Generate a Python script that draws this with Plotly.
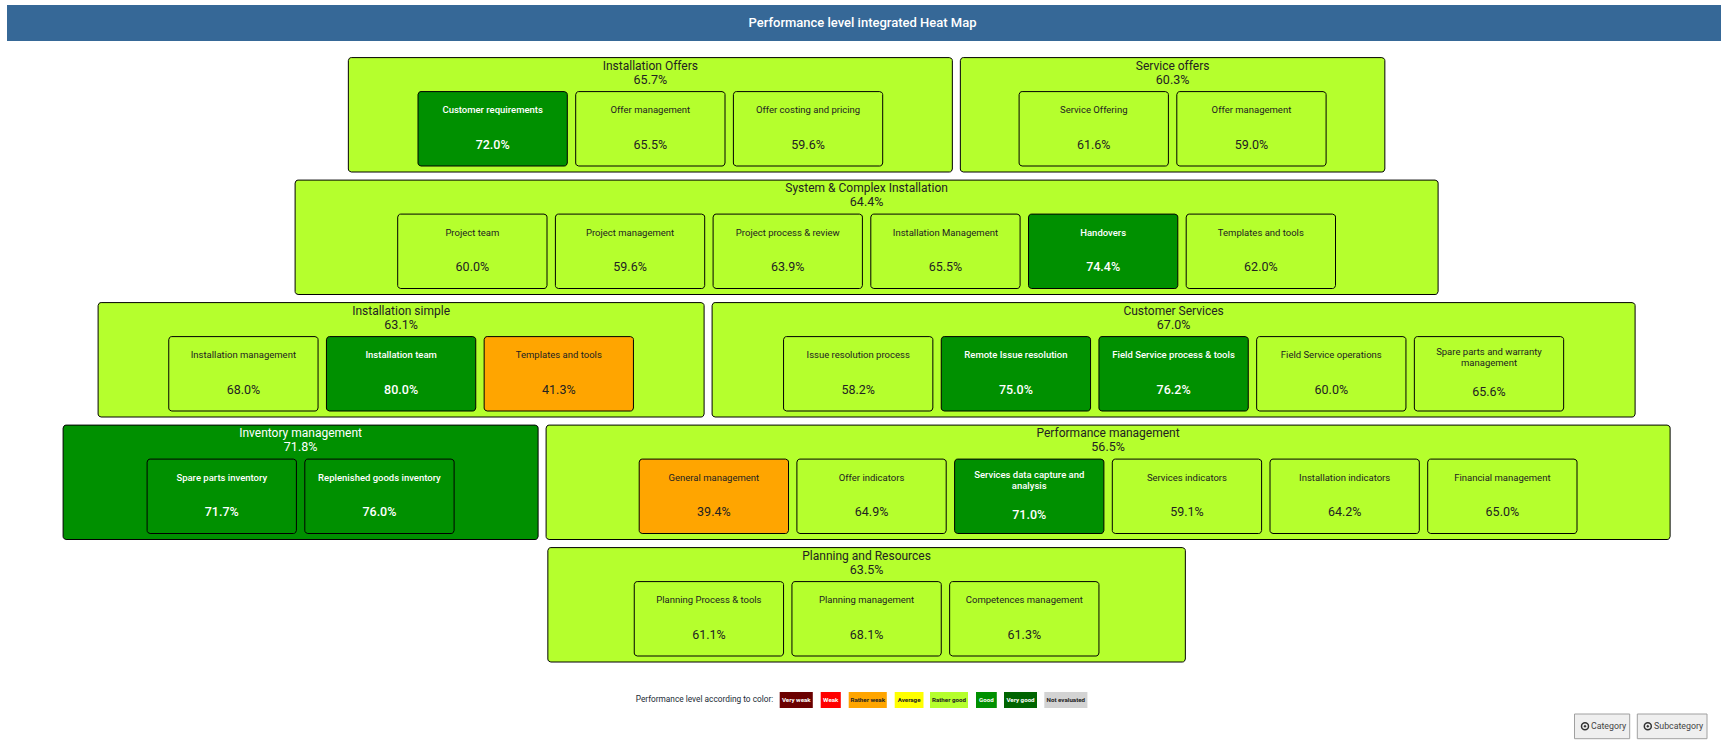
import numpy as np
import plotly.graph_objects as go

TITLE = "Performance level integrated Heat Map"
CATEGORIES = ["Installation Offers", "Service offers", "System & Complex Installation",
              "Installation simple", "Customer Services", "Inventory management",
              "Performance management", "Planning and Resources"]
CATEGORY_SCORES = [65.7, 60.3, 64.4, 63.1, 67.0, 71.8, 56.5, 63.5]
SUB_NAMES = [
    ["Customer requirements", "Offer management", "Offer costing and pricing"],
    ["Service Offering", "Offer management"],
    ["Project team", "Project management", "Project process & review",
     "Installation Management", "Handovers", "Templates and tools"],
    ["Installation management", "Installation team", "Templates and tools"],
    ["Issue resolution process", "Remote Issue resolution", "Field Service process & tools",
     "Field Service operations", "Spare parts and warranty\nmanagement"],
    ["Spare parts inventory", "Replenished goods inventory"],
    ["General management", "Offer indicators", "Services data capture and\nanalysis",
     "Services indicators", "Installation indicators", "Financial management"],
    ["Planning Process & tools", "Planning management", "Competences management"],
]
SUB_SCORES = [
    [72.0, 65.5, 59.6],
    [61.6, 59.0],
    [60.0, 59.6, 63.9, 65.5, 74.4, 62.0],
    [68.0, 80.0, 41.3],
    [58.2, 75.0, 76.2, 60.0, 65.6],
    [71.7, 76.0],
    [39.4, 64.9, 71.0, 59.1, 64.2, 65.0],
    [61.1, 68.1, 61.3],
]
LEGEND_TITLE = "Performance level according to color:"
LEVELS = ["Very weak", "Weak", "Rather weak", "Average", "Rather good", "Good", "Very good", "Not evaluated"]
BUTTONS = ["Category", "Subcategory"]

# ---- layout and style ----
ROW_OF = [0, 0, 1, 2, 2, 3, 3, 4]
WIDTH_OF = [604, 424.5, 1143, 606, 923, 475, 1124, 637.5]
LEVEL_COLOR = ["#6b0000", "#ff0000", "#ffa500", "#ffff00", "#b5ff2d", "#009000", "#006400", "#d3d3d3"]
LEVEL_TEXT = ["white", "white", "#222", "#222", "#222", "white", "white", "#222"]
LEVEL_X = [(779.7, 812.8), (820.7, 840.8), (848.7, 886.8), (894.7, 923.5),
           (930, 968), (976, 996.8), (1004, 1037), (1044.3, 1087.4)]
BUTTON_X = [(1574.5, 1629.7), (1637.3, 1707)]
FONT = "Roboto"
CENTER = 866.6; GAP = 8; ROW_TOP = 57.6; ROW_PITCH = 122.5; GROUP_H = 114.4
SUB_W = 149.3; SUB_H = 74.4; SUB_TOP = 34; SUB_GAP = 8.4


def level_of(v):
    if v > 80:
        return 6
    if v >= 70:
        return 5
    if v >= 50:
        return 4
    return 2


def rounded(x0, y0, x1, y1, r=3):
    t = np.linspace(0, np.pi / 2, 5)
    xs, ys = [], []
    for cx, cy, a in [(x1 - r, y0 + r, -np.pi / 2), (x1 - r, y1 - r, 0),
                      (x0 + r, y1 - r, np.pi / 2), (x0 + r, y0 + r, np.pi)]:
        xs += list(cx + r * np.cos(t + a))
        ys += list(cy + r * np.sin(t + a))
    return xs + xs[:1], ys + ys[:1]


fig = go.Figure()


def box(x0, y0, x1, y1, color, line="#000", lw=1.0, r=3):
    xs, ys = rounded(x0, y0, x1, y1, r)
    fig.add_trace(go.Scatter(x=xs, y=ys, mode="lines", fill="toself", fillcolor=color,
                             line=dict(color=line, width=lw), hoverinfo="skip", showlegend=False))


def label(x, y, s, size, color, weight=400):
    fig.add_trace(go.Scatter(x=[x], y=[y], mode="text", text=[s], textposition="middle center",
                             textfont=dict(family=FONT, size=size, color=color, weight=weight),
                             hoverinfo="skip", showlegend=False))


# header
box(7, 5, 1721, 41, "#366897", line="#366897", lw=0, r=0)
label(862.5, 23.5, TITLE, 13, "white", 500)

# groups
for row in range(max(ROW_OF) + 1):
    idx = [i for i, r in enumerate(ROW_OF) if r == row]
    total = sum(WIDTH_OF[i] for i in idx) + GAP * (len(idx) - 1)
    left = CENTER - total / 2
    top = ROW_TOP + row * ROW_PITCH
    for i in idx:
        w = WIDTH_OF[i]
        lv = level_of(CATEGORY_SCORES[i])
        box(left, top, left + w, top + GROUP_H, LEVEL_COLOR[lv])
        cx = left + w / 2
        tc = LEVEL_TEXT[lv]
        label(cx, top + 9.3, CATEGORIES[i], 12, tc)
        label(cx, top + 23.2, f"{CATEGORY_SCORES[i]:.1f}%", 12.5, tc)
        n = len(SUB_NAMES[i])
        inner = n * SUB_W + (n - 1) * SUB_GAP
        sx = cx - inner / 2
        for name, val in zip(SUB_NAMES[i], SUB_SCORES[i]):
            slv = level_of(val)
            st = top + SUB_TOP
            box(sx, st, sx + SUB_W, st + SUB_H, LEVEL_COLOR[slv])
            sc = LEVEL_TEXT[slv]
            wgt = 500 if slv == 5 else 400
            lines = name.split("\n")
            if len(lines) == 1:
                label(sx + SUB_W / 2, st + 19.3, name, 9.5, sc, wgt)
                label(sx + SUB_W / 2, st + 53.9, f"{val:.1f}%", 12.5, sc, wgt)
            else:
                label(sx + SUB_W / 2, st + 16.3, lines[0], 9.5, sc, wgt)
                label(sx + SUB_W / 2, st + 27.5, lines[1], 9.5, sc, wgt)
                label(sx + SUB_W / 2, st + 56.6, f"{val:.1f}%", 12.5, sc, wgt)
            sx += SUB_W + SUB_GAP
        left += w + GAP

# colour key
label(704.5, 699.5, LEGEND_TITLE, 8.3, "#222b36")
for name, col, tcol, (x0, x1) in zip(LEVELS, LEVEL_COLOR, LEVEL_TEXT, LEVEL_X):
    box(x0, 692, x1, 708, col, line=col, lw=0, r=0)
    label((x0 + x1) / 2, 700, name, 6.2, tcol, 700)

# buttons
for name, (x0, x1) in zip(BUTTONS, BUTTON_X):
    box(x0, 714, x1, 738.7, "#efefef", line="#a0a0a0", lw=1, r=0)
    fig.add_trace(go.Scatter(x=[x0 + 10.5], y=[726.3], mode="markers",
                             marker=dict(symbol="circle-open-dot", size=7, color="#333",
                                         line=dict(color="#333", width=1.5)),
                             hoverinfo="skip", showlegend=False))
    label((x0 + 16 + x1) / 2 - 1.5, 726.5, name, 8.8, "#444")

fig.update_layout(
    width=1727, height=744, margin=dict(l=0, r=0, t=0, b=0),
    paper_bgcolor="white", plot_bgcolor="white", showlegend=False,
    xaxis=dict(range=[0, 1727], visible=False, fixedrange=True),
    yaxis=dict(range=[744, 0], visible=False, fixedrange=True),
)
fig.write_html("out.html", config={"displayModeBar": False},
               post_script="document.body.style.margin='0';document.documentElement.style.overflow='hidden';")
